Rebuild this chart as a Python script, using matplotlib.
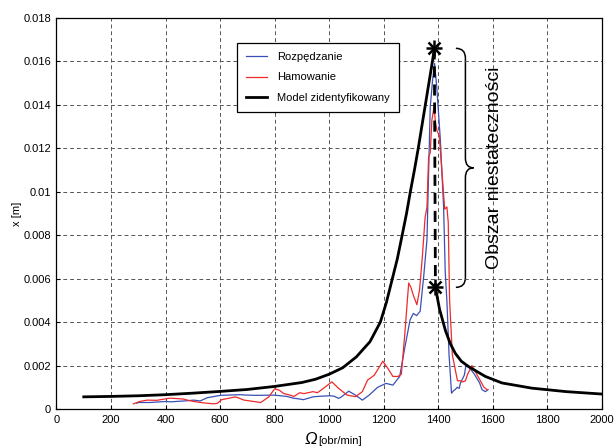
import matplotlib
matplotlib.use("Agg")
import matplotlib.pyplot as plt
from matplotlib.path import Path
from matplotlib.patches import PathPatch

plt.rcParams['font.family'] = ['Liberation Sans', 'DejaVu Sans']

# ---------------- data ----------------
blue_rpm = [294, 302, 343, 404, 418, 478, 504, 527, 553, 602, 673, 700, 734, 798, 845, 869,
            892, 906, 941, 969, 1004, 1018, 1035, 1042, 1072, 1097, 1122, 1147, 1178, 1209,
            1234, 1259, 1278, 1297, 1309, 1321, 1334, 1338, 1347, 1359, 1365, 1371, 1380,
            1387, 1395, 1408, 1420, 1426, 1432, 1440, 1449, 1457, 1463, 1470, 1477, 1482,
            1496, 1502, 1515, 1533, 1552, 1561, 1573, 1583]
blue_x = [0.00027, 0.0003, 0.0003, 0.00035, 0.00033, 0.00038, 0.00041, 0.00037, 0.00052,
          0.00063, 0.00066, 0.00064, 0.00063, 0.00064, 0.00058, 0.0005, 0.00046, 0.00043,
          0.00056, 0.00059, 0.00061, 0.00059, 0.00049, 0.00053, 0.00082, 0.00064, 0.00041,
          0.00064, 0.001, 0.00118, 0.0011, 0.0015, 0.00285, 0.0041, 0.0044, 0.0043, 0.0045,
          0.005, 0.0061, 0.0078, 0.0109, 0.0139, 0.0152, 0.0159, 0.0148, 0.0124, 0.0093,
          0.0063, 0.005, 0.0025, 0.00073, 0.00085, 0.0009, 0.001, 0.00095, 0.0012, 0.00156,
          0.002, 0.0019, 0.0016, 0.0012, 0.00089, 0.0008, 0.00089]

red_rpm = [282, 306, 333, 368, 406, 417, 465, 480, 502, 541, 576, 590, 606, 626, 657, 688,
           722, 749, 779, 800, 817, 834, 854, 871, 892, 908, 941, 957, 979, 1010, 1035, 1066,
           1097, 1122, 1141, 1166, 1197, 1216, 1234, 1253, 1265, 1278, 1287, 1292, 1300, 1310,
           1322, 1332, 1342, 1352, 1359, 1365, 1371, 1377, 1385, 1390, 1396, 1404, 1414, 1424,
           1432, 1437, 1442, 1452, 1463, 1471, 1482, 1490, 1500, 1508, 1524, 1546, 1568, 1580]
red_x = [0.00024, 0.00035, 0.00041, 0.0004, 0.00048, 0.0005, 0.00046, 0.00041, 0.00035,
         0.00028, 0.00024, 0.00026, 0.00043, 0.00048, 0.00056, 0.00041, 0.00035, 0.0003,
         0.00056, 0.00093, 0.00087, 0.00071, 0.00065, 0.00058, 0.00075, 0.00071, 0.0008,
         0.00075, 0.00095, 0.00125, 0.00095, 0.00064, 0.00057, 0.0008, 0.00133, 0.00156,
         0.0022, 0.00186, 0.0015, 0.0015, 0.0016, 0.0035, 0.005, 0.0058, 0.0056, 0.0052,
         0.0048, 0.0055, 0.007, 0.0088, 0.0093, 0.0116, 0.0118, 0.0133, 0.0139, 0.0132,
         0.0128, 0.0126, 0.0109, 0.0092, 0.0093, 0.0086, 0.005, 0.0025, 0.0018, 0.0013,
         0.0013, 0.00125, 0.0013, 0.0016, 0.002, 0.0015, 0.001, 0.00089]

model_up_rpm = [100, 200, 300, 400, 500, 600, 700, 800, 900, 950, 1000, 1050, 1100, 1150,
                1188, 1210, 1232, 1250, 1268, 1284, 1298, 1313, 1327, 1340, 1353, 1366,
                1379, 1386]
model_up_x = [0.00056, 0.00058, 0.00061, 0.00066, 0.00073, 0.00081, 0.0009, 0.00104,
              0.00122, 0.00137, 0.0016, 0.0019, 0.0024, 0.0031, 0.004, 0.0049, 0.006,
              0.0069, 0.008, 0.009, 0.010, 0.011, 0.012, 0.013, 0.014, 0.015, 0.016, 0.0166]
model_jump_rpm = [1386, 1390]
model_jump_x = [0.0166, 0.0056]
model_down_rpm = [1390, 1405, 1427, 1445, 1463, 1485, 1512, 1573, 1634, 1744, 1870, 2000]
model_down_x = [0.0056, 0.0046, 0.0036, 0.003, 0.00256, 0.0022, 0.00195, 0.0015, 0.0012,
                0.00096, 0.0008, 0.00069]

xticks = [0, 200, 400, 600, 800, 1000, 1200, 1400, 1600, 1800, 2000]
yticks = [0, 0.002, 0.004, 0.006, 0.008, 0.01, 0.012, 0.014, 0.016, 0.018]
ytick_labels = ['0', '0.002', '0.004', '0.006', '0.008', '0.01', '0.012', '0.014', '0.016', '0.018']

labels = ['Rozpędzanie', 'Hamowanie', 'Model zidentyfikowany']

# ---------------- figure ----------------
fig = plt.figure(figsize=(6.14, 4.48), dpi=100)
ax = fig.add_axes([0.092, 0.087, 0.888, 0.873])

lb, = ax.plot(blue_rpm, blue_x, color='#3a4fb5', lw=0.9, label=labels[0])
lr, = ax.plot(red_rpm, red_x, color='#ee2a2a', lw=0.9, label=labels[1])
lk, = ax.plot(model_up_rpm, model_up_x, color='black', lw=2.0, label=labels[2])
ax.plot(model_jump_rpm, model_jump_x, color='black', lw=2.0, linestyle=(0, (4, 2.5)))
ax.plot(model_down_rpm, model_down_x, color='black', lw=2.0)

# asterisks at the jump points
for xx, yy in [(model_jump_rpm[0], model_jump_x[0]), (model_jump_rpm[1], model_jump_x[1])]:
    ax.plot([xx], [yy], marker='+', color='black', ms=11, mew=1.8, clip_on=False)
    ax.plot([xx], [yy], marker='x', color='black', ms=8, mew=1.8, clip_on=False)

ax.set_xlim(0, 2000)
ax.set_ylim(0, 0.018)
ax.set_xticks(xticks)
ax.set_xticklabels([str(t) for t in xticks])
ax.set_yticks(yticks)
ax.set_yticklabels(ytick_labels)
ax.tick_params(direction='in', labelsize=8, length=3, width=0.8, pad=4)
ax.grid(True, color='#555555', linestyle=(0, (4, 3)), linewidth=0.7)
for s in ax.spines.values():
    s.set_linewidth(0.9)

ax.set_ylabel('x [m]', fontsize=8, labelpad=1)

# x label: italic Omega + unit
ax.text(0.467, -0.09, 'Ω', transform=ax.transAxes, fontsize=12, fontstyle='italic',
        ha='center', va='baseline')
ax.text(0.481, -0.09, '[obr/min]', transform=ax.transAxes, fontsize=8,
        ha='left', va='baseline')

# brace marking the unstable region
y_top, y_bot = model_jump_x[0], model_jump_x[1]
y_mid = 0.5 * (y_top + y_bot)
xl, xv, xt, h = 1465, 1500, 1530, 0.00045
verts = [(xl, y_top), (xv, y_top), (xv, y_top - h),
         (xv, y_mid + h),
         (xv, y_mid), (xt, y_mid),
         (xv, y_mid), (xv, y_mid - h),
         (xv, y_bot + h),
         (xv, y_bot), (xl, y_bot)]
codes = [Path.MOVETO, Path.CURVE3, Path.CURVE3,
         Path.LINETO,
         Path.CURVE3, Path.CURVE3,
         Path.CURVE3, Path.CURVE3,
         Path.LINETO,
         Path.CURVE3, Path.CURVE3]
ax.add_patch(PathPatch(Path(verts, codes), fill=False, lw=1.1, color='black'))
ax.text(1605, y_mid, 'Obszar niestateczności', rotation=90, fontsize=14,
        ha='center', va='center')

leg = ax.legend(handles=[lb, lr, lk], loc='upper left', bbox_to_anchor=(0.331, 0.936),
                borderaxespad=0, fontsize=8, frameon=True, fancybox=False,
                edgecolor='black', framealpha=1, handlelength=1.9, labelspacing=0.95,
                borderpad=0.8, handletextpad=0.9)
leg.get_frame().set_linewidth(0.9)

fig.savefig('out.png', dpi=100)
